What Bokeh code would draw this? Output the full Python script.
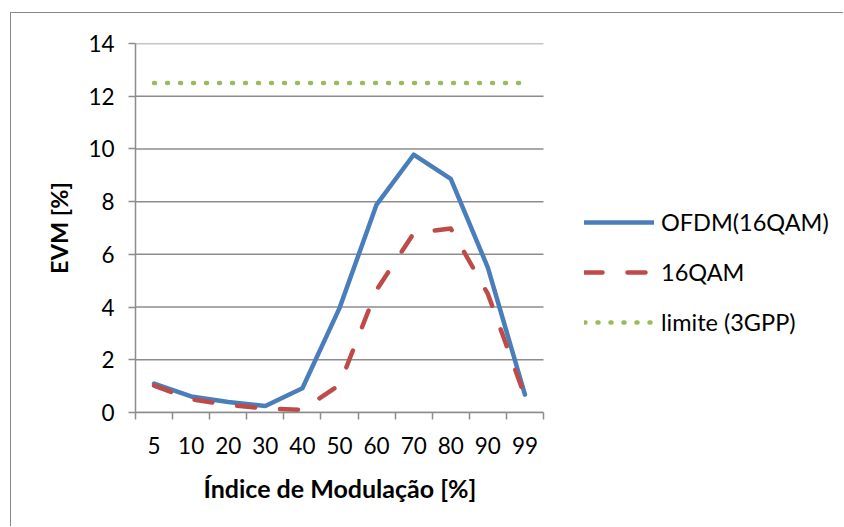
from bokeh.plotting import figure
from bokeh.models import Range1d, FixedTicker, Legend, LegendItem, Title
from bokeh.embed import file_html
from bokeh.resources import INLINE

# Modulation index categories (x axis) and measured EVM values [%]
categories = ["5", "10", "20", "30", "40", "50", "60", "70", "80", "90", "99"]
evm_ofdm_16qam = [1.1, 0.61, 0.4, 0.25, 0.92, 3.96, 7.89, 9.78, 8.86, 5.5, 0.68]
evm_16qam = [1.02, 0.5, 0.29, 0.15, 0.1, 1.05, 4.65, 6.8, 6.98, 4.5, 0.6]
limit_3gpp = [12.5] * len(categories)
y_ticks = [0, 2, 4, 6, 8, 10, 12, 14]

FONT = "Lato"
GRID = "#8c8c8c"

n = len(categories)
centers = [i + 0.5 for i in range(n)]
bounds = list(range(n + 1))

# Plot area occupies the first 408 px of a 709 px frame; the rest holds the legend
FRAME_W, PLOT_W = 709, 408
x_end = n * FRAME_W / PLOT_W

p = figure(width=833, height=514, output_backend="svg", toolbar_location=None,
           x_range=Range1d(0, x_end), y_range=Range1d(0, 14),
           min_border_left=124, min_border_right=0,
           min_border_top=30, min_border_bottom=115,
           styles={"margin-left": "10px", "margin-top": "12px",
                   "border-left": "1px solid #888888",
                   "border-top": "1px solid #888888"})
p.outline_line_color = None
p.background_fill_color = "white"
p.border_fill_color = "white"

# Category axis: labels at the centres, tick marks between categories
p.xaxis.bounds = (0, n)
p.xaxis.ticker = FixedTicker(ticks=centers, minor_ticks=bounds)
p.xaxis.major_label_overrides = {c: lab for c, lab in zip(centers, categories)}
p.xaxis.major_tick_out = 0
p.xaxis.major_tick_in = 0
p.xaxis.minor_tick_out = 7
p.xaxis.minor_tick_in = 0
p.xaxis.minor_tick_line_color = GRID
p.xaxis.minor_tick_line_width = 1.5

p.yaxis.ticker = FixedTicker(ticks=y_ticks)
p.yaxis.major_tick_out = 7
p.yaxis.major_tick_in = 0
p.yaxis.minor_tick_line_color = None
p.yaxis.major_tick_line_color = GRID
p.yaxis.major_tick_line_width = 1.5

for ax in (p.xaxis, p.yaxis):
    ax.axis_line_color = GRID
    ax.axis_line_width = 1.5
    ax.major_label_text_font = FONT
    ax.major_label_text_font_size = "22.5px"
    ax.major_label_text_color = "black"

p.xaxis.major_label_standoff = 17
p.yaxis.major_label_standoff = 14
p.yaxis.axis_label = "EVM [%]"
p.yaxis.axis_label_text_font = FONT
p.yaxis.axis_label_text_font_style = "bold"
p.yaxis.axis_label_text_font_size = "23.5px"
p.yaxis.axis_label_text_color = "black"
p.yaxis.axis_label_standoff = 12

# x-axis title, centred under the category span
x_title = Title(text="Índice de Modulação [%]", align="left", offset=68,
                text_font=FONT, text_font_style="bold", text_font_size="25px",
                text_color="black",
                padding=dict(left=0, right=0, top=9, bottom=0))
p.add_layout(x_title, "below")

# Horizontal gridlines across the category span only
p.xgrid.visible = False
p.ygrid.visible = False
p.segment(x0=[0] * len(y_ticks), x1=[n] * len(y_ticks), y0=y_ticks, y1=y_ticks,
          line_color=GRID, line_width=1.5, level="underlay")

r_ofdm = p.line(centers, evm_ofdm_16qam, line_color="#4a7ebb", line_width=4.5,
                line_join="round", line_cap="round")
r_qam = p.line(centers, evm_16qam, line_color="#be4b48", line_width=4.5,
               line_dash="18 25", line_join="round", line_cap="round")
r_lim = p.line(centers, limit_3gpp, line_color="#9bbb59", line_width=4.5,
               line_dash="1 12", line_cap="round")

legend = Legend(items=[
    LegendItem(label="OFDM(16QAM)", renderers=[r_ofdm]),
    LegendItem(label="16QAM", renderers=[r_qam]),
    LegendItem(label="limite (3GPP)", renderers=[r_lim]),
], location=(449, 76))
legend.border_line_color = None
legend.background_fill_alpha = 0
legend.padding = 0
legend.margin = 0
legend.glyph_width = 70
legend.glyph_height = 26
legend.label_height = 26
legend.spacing = 22
legend.label_standoff = 7
legend.label_text_font = FONT
legend.label_text_font_size = "23.5px"
legend.label_text_color = "black"
p.add_layout(legend, "center")

open("out.html", "w").write(file_html(p, INLINE))
